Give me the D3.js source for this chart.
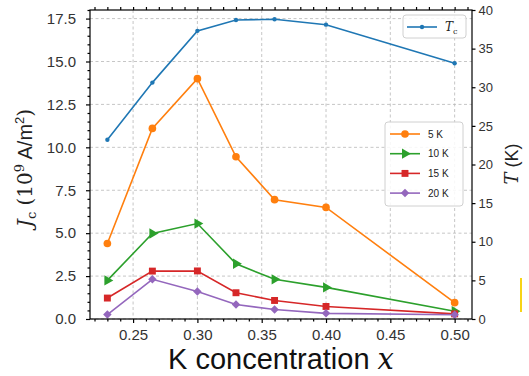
<!DOCTYPE html>
<html>
<head>
<meta charset="utf-8">
<script src="https://cdn.jsdelivr.net/npm/d3@7"></script>
<style>
  html, body { margin: 0; padding: 0; background: #fff; }
  svg { display: block; }
</style>
</head>
<body>
<svg id="chart" width="529" height="376"></svg>
<script>
// K concentration values
const concentrations = [0.23, 0.265, 0.30, 0.33, 0.36, 0.40, 0.50];
// critical temperature Tc (K), right axis
const tcValues = [23.2, 30.6, 37.3, 38.7, 38.8, 38.1, 33.1];
// critical current density Jc (10^9 A/m^2) at each temperature
const jc5K  = [4.4, 11.1, 14.0, 9.45, 6.95, 6.5, 0.95];
const jc10K = [2.25, 4.98, 5.56, 3.22, 2.31, 1.84, 0.45];
const jc15K = [1.22, 2.79, 2.8, 1.53, 1.08, 0.73, 0.3];
const jc20K = [0.26, 2.31, 1.6, 0.84, 0.55, 0.33, 0.25];
const seriesLabels = ["5 K", "10 K", "15 K", "20 K"];
// tick values
const xTicks = [0.25, 0.30, 0.35, 0.40, 0.45, 0.50];
const jTicks = [0, 2.5, 5, 7.5, 10, 12.5, 15, 17.5];
const tTicks = [0, 5, 10, 15, 20, 25, 30, 35, 40];

const svg = d3.select("#chart");
const L = 90, R = 472, T = 10, B = 319;

const x = d3.scaleLinear().domain([0.2165, 0.5135]).range([L, R]);
const yJ = d3.scaleLinear().domain([0, 18]).range([B, T]);
const yT = d3.scaleLinear().domain([0, 40]).range([B, T]);

const tickFont = "'Liberation Sans', Arial, sans-serif";

// grid (left axis + x axis)
const grid = svg.append("g");
grid.selectAll("line.v").data(xTicks).join("line")
  .attr("x1", d => x(d)).attr("x2", d => x(d)).attr("y1", T).attr("y2", B)
  .attr("stroke", "#b8b8b8").attr("stroke-width", 0.8).attr("stroke-dasharray", "3,2.5");
grid.selectAll("line.h").data(jTicks).join("line")
  .attr("x1", L).attr("x2", R).attr("y1", d => yJ(d)).attr("y2", d => yJ(d))
  .attr("stroke", "#b8b8b8").attr("stroke-width", 0.8).attr("stroke-dasharray", "3,2.5");

// marker shapes
const symbols = {
  circle: d3.symbol().type(d3.symbolCircle).size(46),
  dot: d3.symbol().type(d3.symbolCircle).size(15),
  square: d3.symbol().type(d3.symbolSquare).size(48),
  diamond: d3.symbol().type(d3.symbolSquare).size(36),
  triangle: d3.symbol().type(d3.symbolTriangle).size(46)
};
function drawMarker(g, kind, color, cx, cy) {
  const p = g.append("path").attr("d", symbols[kind]()).attr("fill", color);
  let tr = `translate(${cx},${cy})`;
  if (kind === "diamond") tr += " rotate(45)";
  if (kind === "triangle") tr += " rotate(90)";
  p.attr("transform", tr);
}

const jSeries = [
  { vals: jc5K, color: "#ff7f0e", marker: "circle" },
  { vals: jc10K, color: "#2ca02c", marker: "triangle" },
  { vals: jc15K, color: "#d62728", marker: "square" },
  { vals: jc20K, color: "#9467bd", marker: "diamond" }
];

const lineJ = d3.line().x((d, i) => x(concentrations[i])).y(d => yJ(d));
const plot = svg.append("g");
jSeries.forEach(s => {
  plot.append("path").datum(s.vals).attr("d", lineJ)
    .attr("fill", "none").attr("stroke", s.color).attr("stroke-width", 1.6);
  s.vals.forEach((v, i) => drawMarker(plot, s.marker, s.color, x(concentrations[i]), yJ(v)));
});

// Tc curve on the twin axis
const lineT = d3.line().x((d, i) => x(concentrations[i])).y(d => yT(d));
plot.append("path").datum(tcValues).attr("d", lineT)
  .attr("fill", "none").attr("stroke", "#1f77b4").attr("stroke-width", 1.6);
tcValues.forEach((v, i) => drawMarker(plot, "dot", "#1f77b4", x(concentrations[i]), yT(v)));

// axes
function styleAxis(g, fs) {
  g.select(".domain").remove();
  g.selectAll("line").attr("stroke", "#000").attr("stroke-width", 1.2);
  g.selectAll("text").attr("font-family", tickFont).attr("font-size", fs).attr("fill", "#333");
}
const minorX = d3.range(22, 52).map(v => v / 100).filter(v => !xTicks.some(t => Math.abs(t - v) < 1e-6));
const minorJ = d3.range(0, 37).map(v => v / 2).filter(v => !jTicks.includes(v));

svg.append("g").attr("transform", `translate(0,${B})`)
  .call(d3.axisBottom(x).tickValues(xTicks).tickFormat(d3.format(".2f")).tickSize(4).tickPadding(6))
  .call(g => styleAxis(g, 15));
svg.append("g").attr("transform", `translate(0,${B})`)
  .call(d3.axisBottom(x).tickValues(minorX).tickFormat("").tickSize(2.5))
  .call(g => styleAxis(g, 15));
svg.append("g").attr("transform", `translate(0,${T})`)
  .call(d3.axisTop(x).tickValues(d3.range(22, 52).map(v => v / 100)).tickFormat("").tickSize(3))
  .call(g => styleAxis(g, 15));
svg.append("g").attr("transform", `translate(${L},0)`)
  .call(d3.axisLeft(yJ).tickValues(jTicks).tickFormat(d3.format(".1f")).tickSize(4).tickPadding(10))
  .call(g => styleAxis(g, 15));
svg.append("g").attr("transform", `translate(${L},0)`)
  .call(d3.axisLeft(yJ).tickValues(minorJ).tickFormat("").tickSize(2.5))
  .call(g => styleAxis(g, 15));
svg.append("g").attr("transform", `translate(${R},0)`)
  .call(d3.axisRight(yT).tickValues(tTicks).tickSize(3.5).tickPadding(3))
  .call(g => styleAxis(g, 13));

// frame
svg.append("rect").attr("x", L).attr("y", T).attr("width", R - L).attr("height", B - T)
  .attr("fill", "none").attr("stroke", "#000").attr("stroke-width", 1.2);

// axis titles
const serif = "'DejaVu Serif', 'Liberation Serif', serif";
const xl = svg.append("text").attr("x", 281).attr("y", 369).attr("text-anchor", "middle")
  .attr("font-family", tickFont).attr("font-size", 29).attr("fill", "#111");
xl.append("tspan").text("K concentration ");
xl.append("tspan").attr("font-family", serif).attr("font-style", "italic").text("x");

const yl = svg.append("text").attr("transform", "translate(32,168) rotate(-90)")
  .attr("text-anchor", "middle").attr("font-family", serif).attr("font-size", 20).attr("fill", "#222");
yl.append("tspan").attr("font-style", "italic").text("J");
yl.append("tspan").attr("font-size", 13).attr("dy", 4).text("c");
yl.append("tspan").attr("dy", -4).text(" (10");
yl.append("tspan").attr("font-size", 13).attr("dy", -8).text("9");
yl.append("tspan").attr("dy", 8).attr("font-family", tickFont).text(" A/m");
yl.append("tspan").attr("font-size", 13).attr("dy", -8).attr("font-family", tickFont).text("2");
yl.append("tspan").attr("dy", 8).text(")");

const yr = svg.append("text").attr("transform", "translate(518,164) rotate(-90)")
  .attr("text-anchor", "middle").attr("font-size", 18).attr("fill", "#222");
yr.append("tspan").attr("font-family", serif).attr("font-style", "italic").text("T");
yr.append("tspan").attr("font-family", tickFont).text(" (K)");

// legends
function legendBox(x0, y0, w, h) {
  svg.append("rect").attr("x", x0).attr("y", y0).attr("width", w).attr("height", h)
    .attr("rx", 3).attr("fill", "#fff").attr("fill-opacity", 0.85)
    .attr("stroke", "#d0d0d0").attr("stroke-width", 1);
}
legendBox(403, 15, 63, 23);
svg.append("line").attr("x1", 407).attr("x2", 437).attr("y1", 27).attr("y2", 27)
  .attr("stroke", "#1f77b4").attr("stroke-width", 1.6);
drawMarker(svg, "dot", "#1f77b4", 422, 27);
const tl = svg.append("text").attr("x", 445).attr("y", 31).attr("font-family", serif)
  .attr("font-size", 12).attr("fill", "#222");
tl.append("tspan").attr("font-style", "italic").text("T");
tl.append("tspan").attr("font-size", 8).attr("dy", 3).text("c");

legendBox(385, 122, 78, 84);
jSeries.forEach((s, i) => {
  const cy = 134 + i * 19.7;
  svg.append("line").attr("x1", 390).attr("x2", 420).attr("y1", cy).attr("y2", cy)
    .attr("stroke", s.color).attr("stroke-width", 1.6);
  drawMarker(svg, s.marker, s.color, 405, cy);
  svg.append("text").attr("x", 428).attr("y", cy + 3.5).attr("font-family", tickFont)
    .attr("font-size", 10).attr("fill", "#222").text(seriesLabels[i]);
});

// thin yellow bar at the right edge
svg.append("rect").attr("x", 520).attr("y", 278).attr("width", 2).attr("height", 34).attr("fill", "#f7d417");
</script>
</body>
</html>
